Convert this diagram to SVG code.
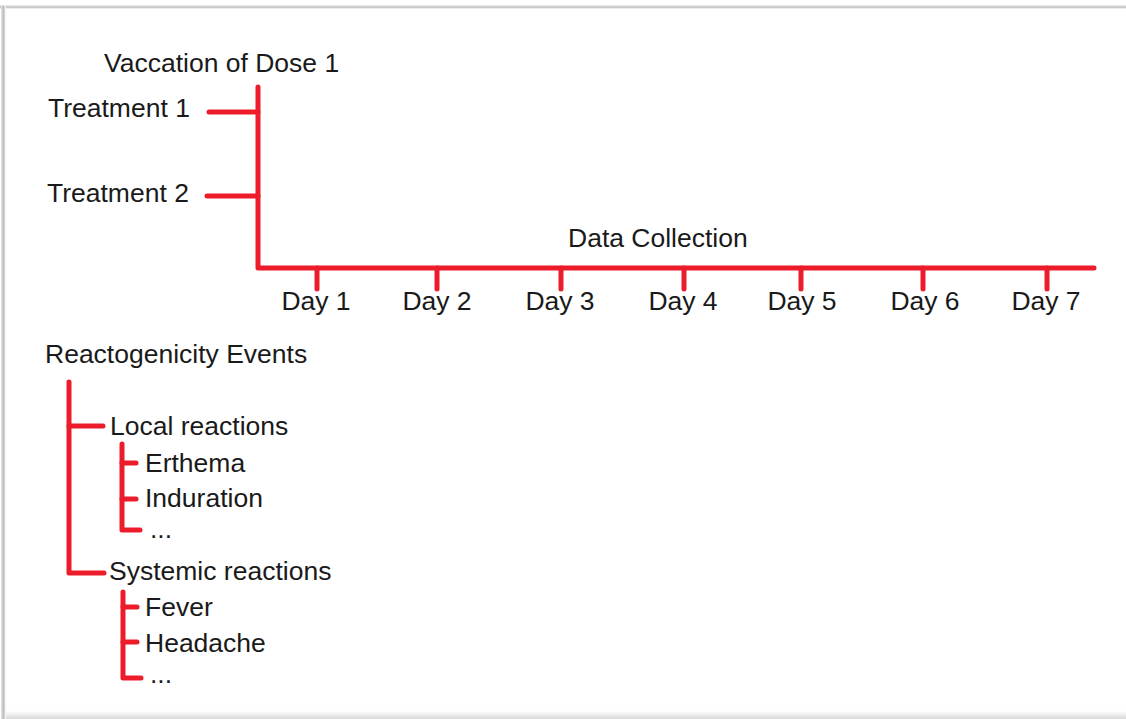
<svg xmlns="http://www.w3.org/2000/svg" width="1126" height="719" viewBox="0 0 1126 719">
  <defs>
    <linearGradient id="shadeBottom" x1="0" y1="0" x2="0" y2="1">
      <stop offset="0" stop-color="#ffffff"/>
      <stop offset="1" stop-color="#d9d9d9"/>
    </linearGradient>
    <linearGradient id="shadeLeft" x1="0" y1="0" x2="1" y2="0">
      <stop offset="0" stop-color="#e6e6e6"/>
      <stop offset="0.5" stop-color="#bdbdbd"/>
      <stop offset="1" stop-color="#ffffff"/>
    </linearGradient>
    <linearGradient id="shadeTop" x1="0" y1="0" x2="0" y2="1">
      <stop offset="0" stop-color="#eeeeee"/>
      <stop offset="0.6" stop-color="#c4c4c4"/>
      <stop offset="1" stop-color="#ffffff"/>
    </linearGradient>
  </defs>
  <style>
    .lbl { font-family: "Liberation Sans", Arial, sans-serif; font-size: 26.5px; fill: #1a1a1a; }
    .mid { text-anchor: middle; }
    .red { fill: none; stroke: #ec1c2a; stroke-width: 5; stroke-linecap: round; stroke-linejoin: round; }
  </style>

  <!-- page and frame -->
  <rect x="0" y="0" width="1126" height="719" fill="#ffffff"/>
  <rect x="0" y="5" width="1126" height="4" fill="url(#shadeTop)"/>
  <rect x="1" y="6" width="5" height="713" fill="url(#shadeLeft)"/>
  <rect x="6" y="711" width="1120" height="8" fill="url(#shadeBottom)"/>

  <!-- connectors -->
  <g id="connectors">
    <!-- dose timeline -->
    <path class="red" d="M258,87 V268 H1094"/>
    <path class="red" d="M209,112 H258"/>
    <path class="red" d="M207,196 H258"/>
    <path class="red" d="M317,268 V289"/>
    <path class="red" d="M437,268 V289"/>
    <path class="red" d="M561,268 V289"/>
    <path class="red" d="M684,268 V289"/>
    <path class="red" d="M801,268 V289"/>
    <path class="red" d="M923,268 V289"/>
    <path class="red" d="M1047,268 V289"/>
    <!-- event tree -->
    <path class="red" d="M69,382 V573 H104"/>
    <path class="red" d="M69,426 H103"/>
    <path class="red" d="M122,444 V530 H140"/>
    <path class="red" d="M122,463 H136"/>
    <path class="red" d="M122,499 H136"/>
    <path class="red" d="M123,592 V678 H141"/>
    <path class="red" d="M123,607 H137"/>
    <path class="red" d="M123,642 H137"/>
  </g>

  <!-- timeline labels -->
  <g id="dose1"><text class="lbl" x="104" y="72">Vaccation of Dose 1</text></g>
  <g id="treatment1"><text class="lbl" x="48" y="117">Treatment 1</text></g>
  <g id="treatment2"><text class="lbl" x="47" y="202">Treatment 2</text></g>
  <g id="data-collection"><text class="lbl" x="568" y="247">Data Collection</text></g>
  <g id="day1"><text class="lbl mid" x="316" y="310">Day 1</text></g>
  <g id="day2"><text class="lbl mid" x="437" y="310">Day 2</text></g>
  <g id="day3"><text class="lbl mid" x="560" y="310">Day 3</text></g>
  <g id="day4"><text class="lbl mid" x="683" y="310">Day 4</text></g>
  <g id="day5"><text class="lbl mid" x="802" y="310">Day 5</text></g>
  <g id="day6"><text class="lbl mid" x="925" y="310">Day 6</text></g>
  <g id="day7"><text class="lbl mid" x="1046" y="310">Day 7</text></g>

  <!-- event tree labels -->
  <g id="events"><text class="lbl" x="45" y="363">Reactogenicity Events</text></g>
  <g id="local"><text class="lbl" x="110" y="435">Local reactions</text></g>
  <g id="erthema"><text class="lbl" x="145" y="472">Erthema</text></g>
  <g id="induration"><text class="lbl" x="145" y="507">Induration</text></g>
  <g id="local-more"><text class="lbl" x="150" y="538">...</text></g>
  <g id="systemic"><text class="lbl" x="109" y="580">Systemic reactions</text></g>
  <g id="fever"><text class="lbl" x="145" y="616">Fever</text></g>
  <g id="headache"><text class="lbl" x="145" y="652">Headache</text></g>
  <g id="systemic-more"><text class="lbl" x="150" y="683">...</text></g>
</svg>
